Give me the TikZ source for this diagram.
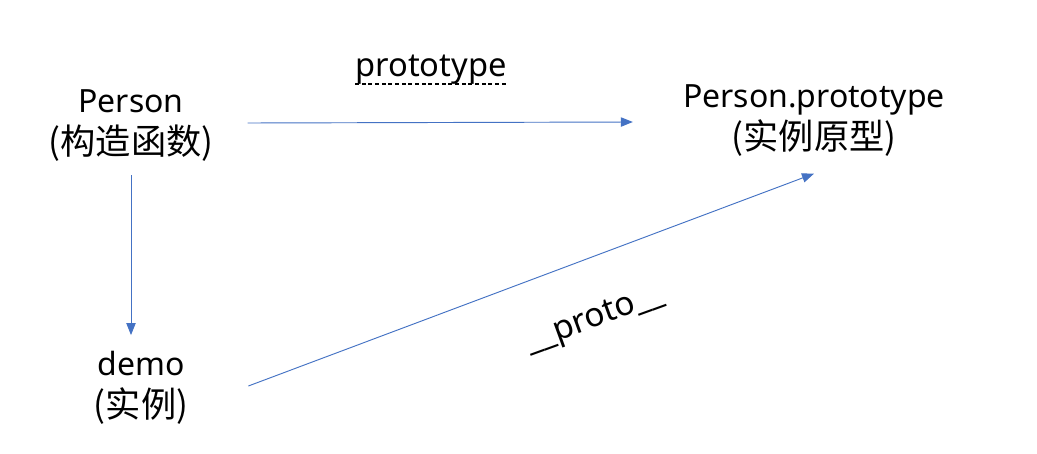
\documentclass[tikz,border=0pt]{standalone}
\usepackage{fontspec}
\setmainfont{Noto Sans}
\newfontfamily\cjk{Noto Sans CJK SC}[Scale=1.1]
\usetikzlibrary{arrows.meta,calc}
\definecolor{arrowblue}{HTML}{4472C4}
\tikzset{
  x=0.75pt, y=-0.75pt,
  label/.style={align=center, font=\fontsize{24}{31.5}\selectfont, inner sep=0pt},
  conn/.style={draw=arrowblue, line width=0.7pt, -{Triangle[length=9pt,width=7pt]}},
}
\begin{document}
\begin{tikzpicture}
\useasboundingbox (0,0) rectangle (1037,453);
\fill[white] (0,0) rectangle (1037,453);
\node[label] (P) at (131,126) {Person\\{\cjk (构造函数)}};
\node[label] (PP) at (814,120.5) {Person.prototype\\{\cjk (实例原型)}};
\node[label] (D) at (141,388) {demo\\{\cjk (实例)}};
\node[label, font=\fontsize{24.5}{27}\selectfont] (LP) at (431,70) {prototype};
\draw[dashed, line width=0.9pt, dash pattern=on 3pt off 2pt] (LP.south west) ++(0,-1) coordinate (u1) -- (LP.south east |- u1);
\node[label, rotate=20, font=\fontsize{25}{27}\selectfont] (LT) at (595,320) {\_\_proto\_\_};
\draw[conn] ($(P.east)+(34,-3)$) -- ($(PP.west)+(-50,1.5)$);
\draw[conn] ($(P.south)+(0,13)$) -- ($(P.south |- D.north)+(0,-16)$);
\draw[conn] ($(D.east)+(60,-2)$) -- ($(PP.south)+(0,17)$);
\end{tikzpicture}
\end{document}
